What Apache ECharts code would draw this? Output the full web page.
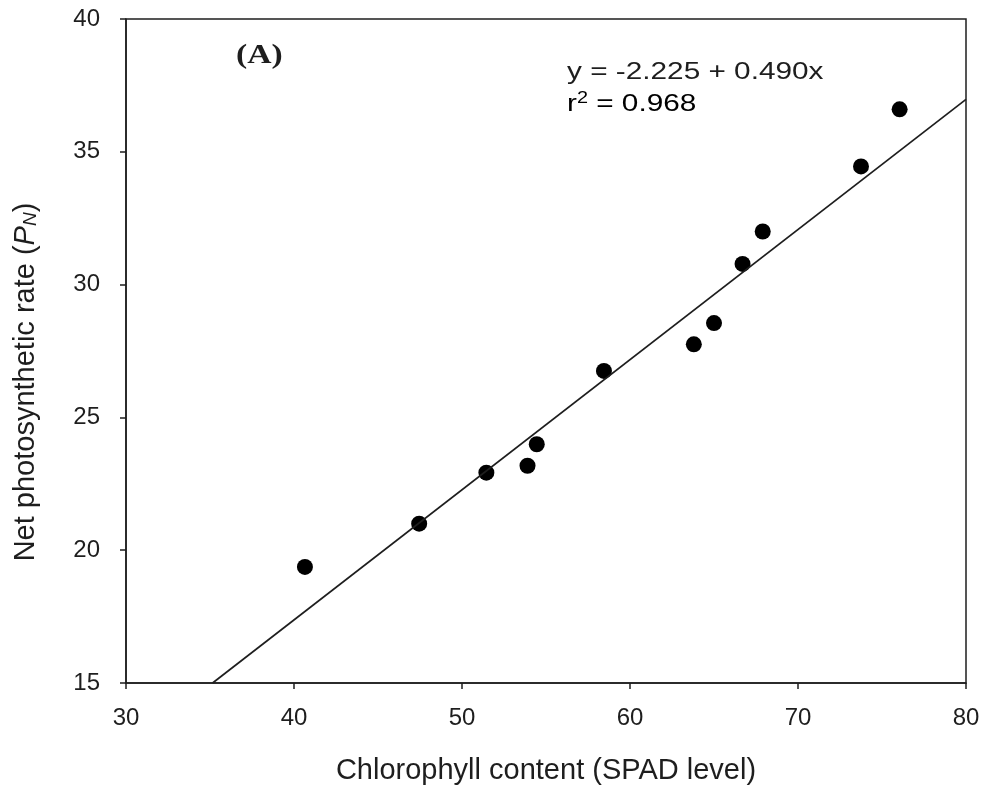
<!DOCTYPE html>
<html>
<head>
<meta charset="utf-8">
<script src="https://cdn.jsdelivr.net/npm/echarts@6/dist/echarts.min.js"></script>
<style>
  html, body { margin: 0; padding: 0; background: #fff; }
  #chart { width: 990px; height: 797px; }
</style>
</head>
<body>
<div id="chart"></div>
<script>
// Chlorophyll content (SPAD) vs. net photosynthetic rate
const spad = [40.65, 47.45, 51.45, 53.9, 54.45, 58.45, 63.8, 65.0, 66.7, 67.9, 73.75, 76.05];
const pn   = [19.37, 21.0, 22.92, 23.18, 23.99, 26.75, 27.75, 28.55, 30.78, 32.0, 34.45, 36.6];
const fitIntercept = -2.225;
const fitSlope = 0.490;
const rSquared = 0.968;
const xTicks = [30, 40, 50, 60, 70, 80];
const yTicks = [15, 20, 25, 30, 35, 40];

const xMin = xTicks[0], xMax = xTicks[xTicks.length - 1];
const yMin = yTicks[0], yMax = yTicks[yTicks.length - 1];

// regression line clipped to the plotting window
const fitStartX = Math.max(xMin, (yMin - fitIntercept) / fitSlope);
const fitEndX = Math.min(xMax, (yMax - fitIntercept) / fitSlope);
const fitLine = [
  [fitStartX, fitIntercept + fitSlope * fitStartX],
  [fitEndX, fitIntercept + fitSlope * fitEndX]
];

const ink = '#1e1e1e';
const sans = '"Liberation Sans", Arial, sans-serif';
const chart = echarts.init(document.getElementById('chart'));
chart.setOption({
  backgroundColor: '#ffffff',
  animation: false,
  grid: {
    left: 126, right: 24, top: 19, bottom: 114,
    show: true, borderColor: ink, borderWidth: 1.5, backgroundColor: 'transparent'
  },
  xAxis: {
    type: 'value', min: xMin, max: xMax, interval: 10,
    name: 'Chlorophyll content (SPAD level)',
    nameLocation: 'middle', nameGap: 73,
    nameTextStyle: { fontFamily: sans, fontSize: 29, color: ink },
    axisLine: { show: true, lineStyle: { color: ink, width: 1.5 } },
    axisTick: { show: true, inside: false, length: 6, lineStyle: { color: ink, width: 1.5 } },
    axisLabel: { fontFamily: sans, fontSize: 24, color: ink, margin: 23 },
    splitLine: { show: false }
  },
  yAxis: {
    type: 'value', min: yMin, max: yMax, interval: 5,
    name: '{n|Net photosynthetic rate (}{i|P}{s|N}{n|)}',
    nameLocation: 'middle', nameGap: 86, nameRotate: 90,
    nameTextStyle: {
      padding: [0, 62, 0, 0],
      rich: {
        n: { fontFamily: sans, fontSize: 29, color: ink },
        i: { fontFamily: sans, fontSize: 29, fontStyle: 'italic', color: ink },
        s: { fontFamily: sans, fontSize: 19, fontStyle: 'italic', color: ink, verticalAlign: 'bottom', padding: [10, 0, 0, 0] }
      }
    },
    axisLine: { show: true, lineStyle: { color: ink, width: 1.5 } },
    axisTick: { show: true, inside: false, length: 6, lineStyle: { color: ink, width: 1.5 } },
    axisLabel: { fontFamily: sans, fontSize: 24, color: ink, margin: 26, padding: [8, 0, 0, 0] },
    splitLine: { show: false }
  },
  series: [
    {
      type: 'line',
      data: fitLine,
      showSymbol: false,
      lineStyle: { color: ink, width: 1.7 },
      silent: true
    },
    {
      type: 'scatter',
      data: spad.map((x, i) => [x, pn[i]]),
      symbol: 'circle',
      symbolSize: 16,
      itemStyle: { color: '#000000', opacity: 1 }
    }
  ],
  graphic: [
    {
      type: 'text', left: 236, top: 42, scaleX: 1.2,
      style: { text: '(A)', font: 'bold 28px "Liberation Serif", "Times New Roman", serif', fill: ink }
    },
    {
      type: 'text', left: 567, top: 60, scaleX: 1.24,
      style: {
        text: 'y = ' + fitIntercept.toFixed(3) + ' + ' + fitSlope.toFixed(3) + 'x',
        font: '24px ' + sans, fill: ink
      }
    },
    {
      type: 'text', left: 567, top: 91, scaleX: 1.24,
      style: {
        text: '{b|r}{p|2}{b| = ' + rSquared.toFixed(3) + '}',
        rich: {
          b: { fontFamily: sans, fontSize: 24, color: ink },
          p: { fontFamily: sans, fontSize: 16, color: ink, verticalAlign: 'top', padding: [0, 0, 10, 0] }
        }
      }
    }
  ]
});
</script>
</body>
</html>
